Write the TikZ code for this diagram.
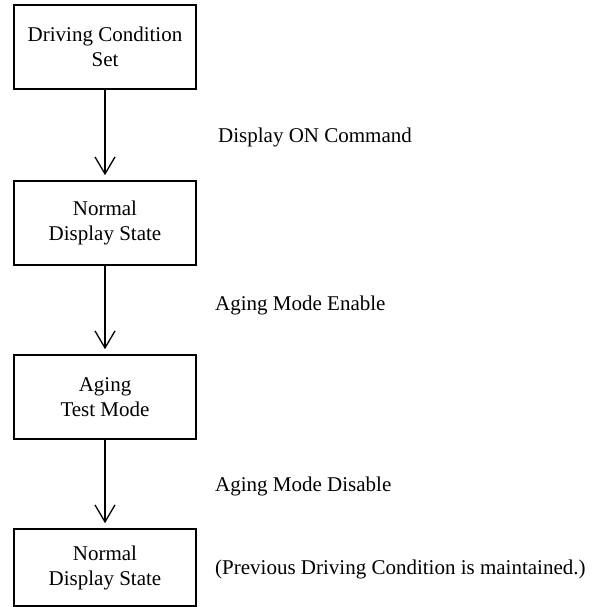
\documentclass[tikz,border=0pt]{standalone}
\usepackage{fontspec}
\setmainfont{Liberation Serif}
\usetikzlibrary{arrows.meta}
\tikzset{
  statebox/.style={draw=black, line width=1.6pt, minimum width=182pt, minimum height=84pt,
    align=center, inner sep=0pt, font=\fontsize{21}{25}\selectfont},
  flow/.style={line width=1.3pt, -{Straight Barb[length=17pt,width=20pt,line width=1.3pt]}, shorten >=5pt},
  lbl/.style={anchor=base west, inner sep=0pt, font=\fontsize{21}{25}\selectfont}
}
\begin{document}
\begin{tikzpicture}[x=1pt,y=-1pt]
\useasboundingbox (0,0) rectangle (592,607);
\node[statebox] (s1) at (105,47) {Driving Condition\\Set};
\node[statebox] (s2) at (105,223) {Normal\\Display State};
\node[statebox] (s3) at (105,397) {Aging\\Test Mode};
\node[statebox, minimum height=77pt] (s4) at (105,567.5) {Normal\\Display State};
\draw[flow] (s1.south) -- (s2.north);
\draw[flow] (s2.south) -- (s3.north);
\draw[flow] (s3.south) -- (s4.north);
\node[lbl] (l1) at (218,142) {Display ON Command};
\node[lbl] (l2) at (215,310) {Aging Mode Enable};
\node[lbl] (l3) at (215,491) {Aging Mode Disable};
\node[lbl] (l4) at (215,574) {(Previous Driving Condition is maintained.)};
\end{tikzpicture}
\end{document}
